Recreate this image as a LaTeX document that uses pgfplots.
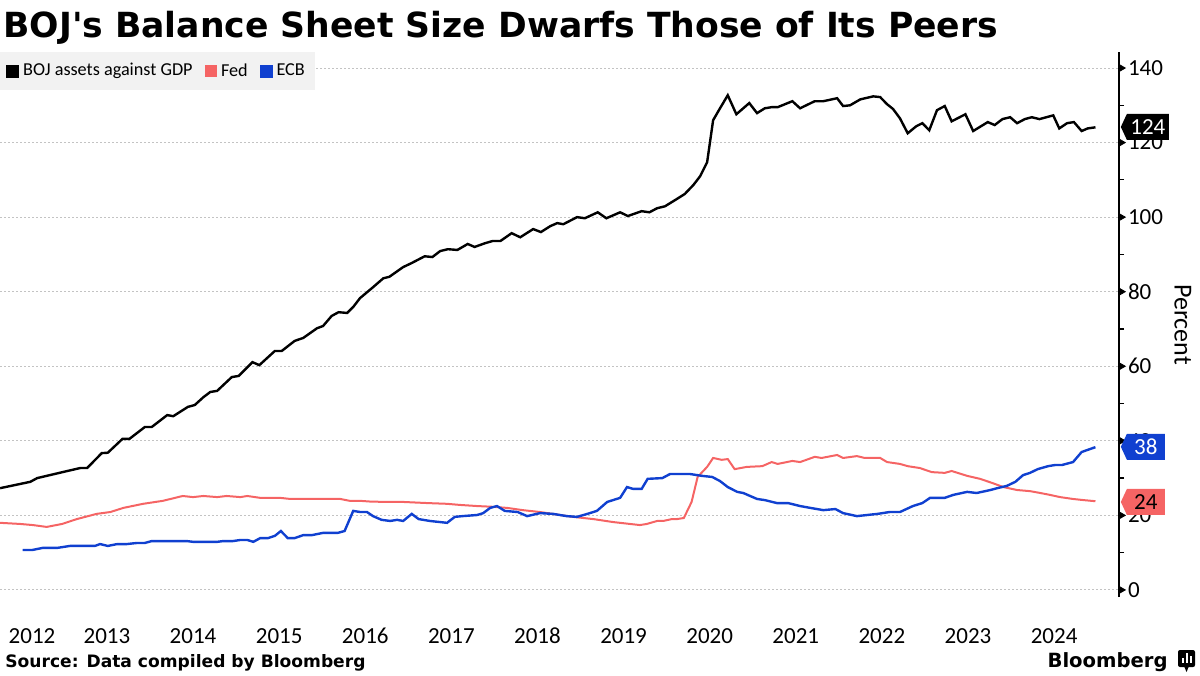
\documentclass[border=0pt]{standalone}
\usepackage{fontspec}
\setmainfont{Carlito}
\newfontfamily\deja{DejaVu Sans}
\usepackage{pgfplots}
\usepackage{pgfplotstable}
\pgfplotsset{compat=1.18}
\usetikzlibrary{shapes.symbols}

\definecolor{fedred}{RGB}{245,100,100}
\definecolor{ecbblue}{RGB}{16,64,208}
\definecolor{gridgray}{RGB}{195,195,195}
\definecolor{legbg}{RGB}{242,242,242}

% BOJ assets against GDP, percent (x = decimal year)
\pgfplotstableread{
x y
2012.26 27.3
2012.61 29.0
2012.69 30.0
2013.04 31.9
2013.19 32.7
2013.27 32.7
2013.44 36.7
2013.51 36.8
2013.68 40.5
2013.76 40.5
2013.94 43.7
2014.02 43.7
2014.20 46.9
2014.27 46.6
2014.44 49.1
2014.52 49.6
2014.62 51.7
2014.70 53.1
2014.78 53.4
2014.95 57.1
2015.03 57.4
2015.19 61.1
2015.27 60.3
2015.45 64.1
2015.53 64.1
2015.68 66.8
2015.78 67.6
2015.94 70.2
2016.01 70.8
2016.11 73.5
2016.19 74.5
2016.29 74.3
2016.36 75.9
2016.44 78.3
2016.58 81.0
2016.71 83.6
2016.78 84.0
2016.94 86.6
2017.04 87.7
2017.19 89.5
2017.28 89.3
2017.37 90.9
2017.46 91.4
2017.57 91.2
2017.69 92.8
2017.77 92.0
2017.89 93.0
2017.98 93.6
2018.07 93.6
2018.20 95.7
2018.30 94.6
2018.45 96.8
2018.54 96.0
2018.65 97.6
2018.73 98.4
2018.80 98.1
2018.96 100.0
2019.05 99.7
2019.20 101.3
2019.30 99.7
2019.46 101.3
2019.55 100.3
2019.71 101.6
2019.80 101.3
2019.89 102.4
2019.98 102.9
2020.10 104.6
2020.21 106.2
2020.31 108.6
2020.39 111.0
2020.47 114.7
2020.54 126.0
2020.62 129.2
2020.71 132.7
2020.81 127.6
2020.96 130.6
2021.05 127.9
2021.14 129.2
2021.22 129.5
2021.29 129.5
2021.46 131.1
2021.55 129.2
2021.72 131.1
2021.82 131.1
2021.98 131.9
2022.05 129.8
2022.13 130.0
2022.25 131.6
2022.40 132.4
2022.48 132.2
2022.56 130.3
2022.63 129.0
2022.71 126.5
2022.80 122.5
2022.90 124.4
2022.97 125.2
2023.05 123.3
2023.14 128.7
2023.23 129.8
2023.31 125.7
2023.47 127.6
2023.56 123.1
2023.73 125.5
2023.81 124.7
2023.90 126.3
2023.99 126.8
2024.07 125.2
2024.16 126.3
2024.24 126.8
2024.33 126.3
2024.49 127.3
2024.56 123.8
2024.65 125.2
2024.73 125.5
2024.82 123.1
2024.89 123.8
2024.98 124.1
}\bojdata

% Fed
\pgfplotstableread{
x y
2012.26 18.0
2012.49 17.7
2012.64 17.4
2012.80 16.9
2012.98 17.7
2013.15 19.0
2013.38 20.4
2013.54 20.9
2013.69 22.0
2013.92 23.1
2014.15 23.9
2014.38 25.2
2014.50 24.9
2014.62 25.2
2014.78 24.9
2014.89 25.2
2015.05 24.9
2015.13 25.2
2015.28 24.7
2015.51 24.7
2015.63 24.4
2016.21 24.4
2016.32 23.9
2016.44 23.9
2016.56 23.7
2016.75 23.6
2016.94 23.6
2017.22 23.3
2017.45 23.1
2017.60 22.8
2017.80 22.5
2017.98 22.3
2018.15 22.0
2018.33 21.4
2018.53 20.9
2018.76 20.1
2018.91 19.6
2019.15 19.0
2019.38 18.2
2019.69 17.4
2019.77 17.7
2019.89 18.5
2019.96 18.5
2020.06 19.0
2020.12 19.0
2020.20 19.3
2020.29 23.6
2020.36 30.3
2020.47 33.0
2020.54 35.4
2020.64 34.9
2020.71 35.1
2020.79 32.4
2020.93 33.0
2021.11 33.2
2021.22 34.3
2021.29 33.8
2021.46 34.6
2021.55 34.3
2021.72 35.7
2021.80 35.4
2021.98 36.2
2022.05 35.4
2022.21 35.9
2022.30 35.4
2022.48 35.4
2022.56 34.3
2022.71 33.8
2022.80 33.2
2022.94 32.7
2023.08 31.6
2023.23 31.4
2023.31 31.9
2023.49 30.6
2023.64 29.8
2023.78 28.7
2023.91 27.6
2024.07 26.8
2024.22 26.5
2024.34 26.0
2024.45 25.5
2024.57 24.9
2024.72 24.4
2024.84 24.1
2024.98 23.8
}\feddata

% ECB
\pgfplotstableread{
x y
2012.52 10.7
2012.63 10.7
2012.76 11.3
2012.93 11.3
2013.07 11.8
2013.36 11.8
2013.42 12.3
2013.51 11.8
2013.62 12.3
2013.73 12.3
2013.85 12.6
2013.94 12.6
2014.02 13.1
2014.43 13.1
2014.50 12.9
2014.78 12.9
2014.85 13.1
2014.96 13.1
2015.05 13.4
2015.13 13.4
2015.20 12.9
2015.28 13.9
2015.37 13.9
2015.45 14.5
2015.52 15.8
2015.60 13.9
2015.68 13.9
2015.78 14.7
2015.88 14.7
2016.01 15.3
2016.18 15.3
2016.26 15.8
2016.36 21.2
2016.44 20.9
2016.52 20.9
2016.59 19.8
2016.69 18.8
2016.79 18.5
2016.87 18.8
2016.94 18.5
2017.04 20.4
2017.12 19.0
2017.25 18.5
2017.45 18.0
2017.54 19.6
2017.63 19.8
2017.80 20.1
2017.87 20.6
2017.95 22.0
2018.03 22.5
2018.12 21.2
2018.27 20.9
2018.38 19.8
2018.53 20.6
2018.68 20.4
2018.84 19.8
2018.96 19.6
2019.08 20.4
2019.19 21.2
2019.31 23.6
2019.46 24.7
2019.54 27.6
2019.61 27.1
2019.71 27.1
2019.78 29.8
2019.95 30.0
2020.04 31.1
2020.27 31.1
2020.41 30.6
2020.53 30.3
2020.62 29.2
2020.71 27.6
2020.82 26.3
2020.89 26.0
2021.05 24.4
2021.14 24.1
2021.28 23.3
2021.41 23.3
2021.55 22.5
2021.67 22.0
2021.82 21.4
2021.96 21.7
2022.05 20.6
2022.21 19.8
2022.33 20.1
2022.45 20.4
2022.59 20.9
2022.71 20.9
2022.86 22.5
2022.97 23.3
2023.06 24.7
2023.23 24.7
2023.33 25.5
2023.49 26.3
2023.60 26.0
2023.76 26.8
2023.84 27.3
2023.95 27.9
2024.05 29.0
2024.14 30.8
2024.22 31.4
2024.31 32.4
2024.43 33.2
2024.51 33.5
2024.59 33.5
2024.72 34.3
2024.82 37.0
2024.98 38.3
}\ecbdata

\begin{document}
\begin{tikzpicture}[x=1bp,y=1bp]
\path[use as bounding box] (0,0) rectangle (600,337.5);

\node[anchor=base west, inner sep=0,
      font=\deja\bfseries\fontsize{17.3bp}{20bp}\selectfont]
  at (1.5,319) {BOJ's Balance Sheet Size Dwarfs Those of Its Peers};

\begin{axis}[
    at={(0bp,39bp)}, anchor=south west, scale only axis,
    width=559.5bp, height=272.5bp,
    xmin=2012.258, xmax=2025.254,
    ymin=-1.9, ymax=144.3,
    clip=false,
    separate axis lines,
    axis y line*=right,
    axis x line*=bottom,
    x axis line style={draw=none},
    y axis line style={line width=0.8bp, black, -},
    tick align=outside,
    major tick length=0pt,
    minor tick length=2.5bp,
    minor tick style={line width=0.6bp, black},
    xtick={2012.63,2013.5,2014.5,2015.5,2016.5,2017.5,2018.5,2019.5,2020.5,2021.5,2022.5,2023.5,2024.5},
    xticklabels={2012,2013,2014,2015,2016,2017,2018,2019,2020,2021,2022,2023,2024},
    xtick style={draw=none},
    ytick={0,20,...,140},
    minor ytick={10,30,...,130},
    ymajorgrids,
    grid style={gridgray, dash pattern=on 1bp off 1bp, line width=0.5bp},
    /pgf/number format/assume math mode=true,
    xticklabel style={font=\fontsize{11.5bp}{12bp}\selectfont, anchor=base, yshift=-23bp},
    yticklabel style={font=\fontsize{11.5bp}{12bp}\selectfont, anchor=west, xshift=1bp},
    ylabel={Percent},
    ylabel style={rotate=180, font=\fontsize{13bp}{14bp}\selectfont,
                  at={(axis description cs:1.057,0.5)}, anchor=center},
    legend style={at={(0,1)}, anchor=north west, fill=legbg, draw=none,
                  font=\fontsize{9.1bp}{10bp}\selectfont,
                  inner xsep=3bp, inner ysep=3.5bp,
                  /tikz/every even column/.append style={column sep=4bp}},
    legend columns=-1,
    legend image code/.code={\fill[#1] (0bp,-2.6bp) rectangle (5.2bp,2.6bp);},
  ]
  \addplot[color=black, line width=1.2bp] table[x=x, y=y] {\bojdata};
  \addlegendentry{BOJ assets against GDP}
  \addplot[color=fedred, line width=1bp] table[x=x, y=y] {\feddata};
  \addlegendentry{Fed}
  \addplot[color=ecbblue, line width=1.2bp] table[x=x, y=y] {\ecbdata};
  \addlegendentry{ECB}

  % tick arrows on the right axis
  \addplot[forget plot, only marks, mark=triangle*, mark size=2bp,
           mark options={rotate=-90, fill=black, draw=none}]
    coordinates {(2025.28,0) (2025.28,20) (2025.28,40) (2025.28,60)
                 (2025.28,80) (2025.28,100) (2025.28,120) (2025.28,140)};

  \coordinate (tagboj) at (axis cs:2025.27,124.2);
  \coordinate (tagecb) at (axis cs:2025.27,38.4);
  \coordinate (tagfed) at (axis cs:2025.27,23.6);
\end{axis}

% last-value tags, drawn above the tick labels
\tikzset{lasttag/.style={signal, signal to=west, signal pointer angle=130,
    font=\fontsize{11.5bp}{12bp}\selectfont, minimum height=13bp,
    inner sep=1bp, anchor=west}}
\node[lasttag, fill=black, text=white, minimum width=24bp] at (tagboj) {124};
\node[lasttag, fill=ecbblue, text=white, minimum width=22bp] at (tagecb) {38};
\node[lasttag, fill=fedred, text=black, minimum width=22bp] at (tagfed) {24};

\node[anchor=base west, inner sep=0,
      font=\deja\bfseries\fontsize{8.55bp}{10bp}\selectfont]
  at (2.5,4) {Source: Data compiled by Bloomberg};
\node[anchor=base east, inner sep=0,
      font=\deja\bfseries\fontsize{9.8bp}{10bp}\selectfont]
  at (584,4) {Bloomberg};
\fill[black, rounded corners=1bp] (589,4) rectangle (597.5,12.5);
\fill[black] (592,4.5) -- (593.25,1.5) -- (594.5,4.5) -- cycle;
\fill[white] (590.8,6) rectangle (591.8,8.5);
\fill[white] (592.8,6) rectangle (593.8,11);
\fill[white] (594.8,6) rectangle (595.8,9.5);
\end{tikzpicture}
\end{document}
